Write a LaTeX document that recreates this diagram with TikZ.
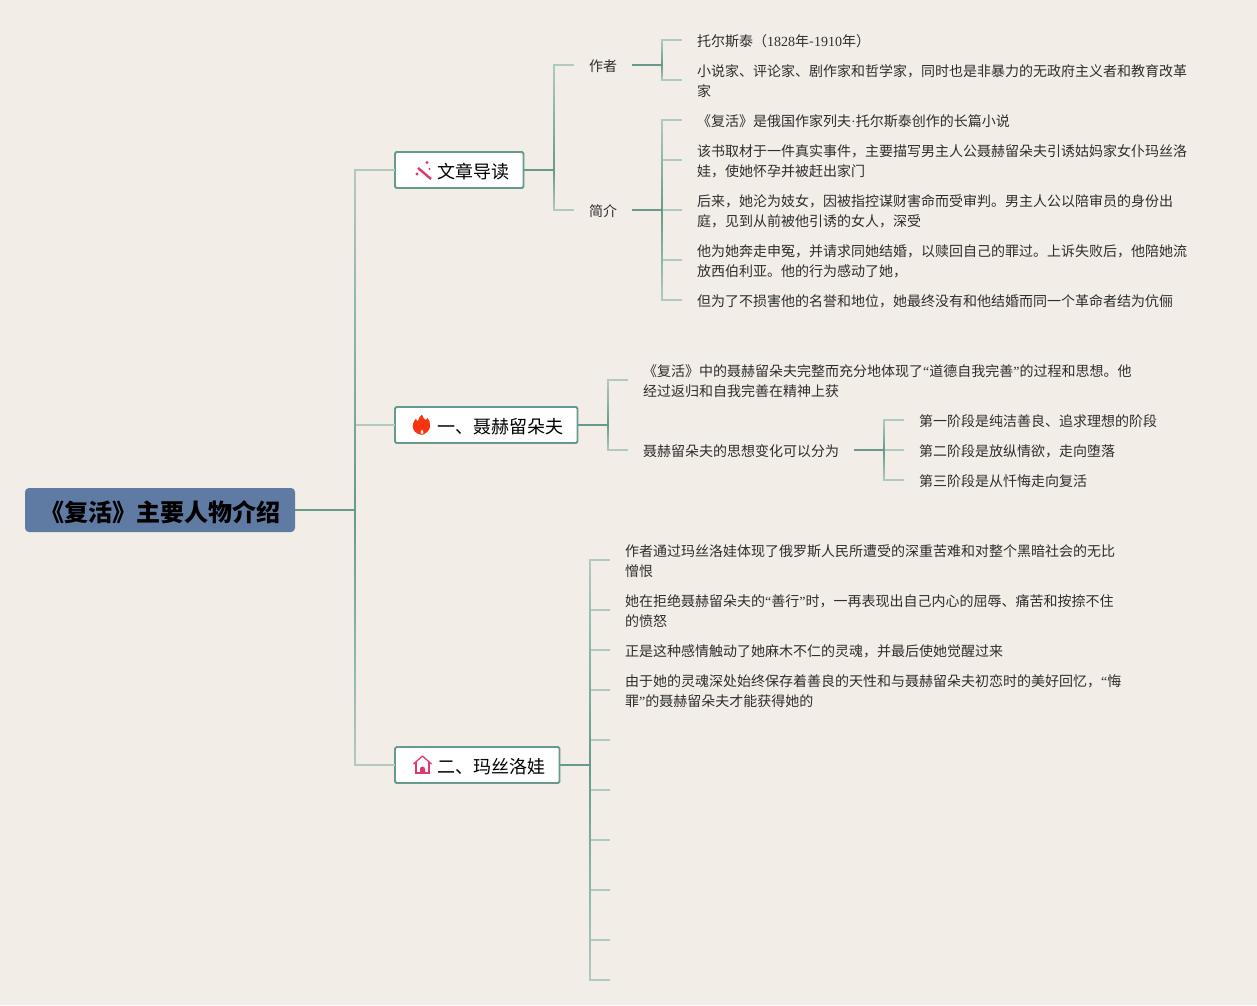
\documentclass[tikz,border=0pt]{standalone}
\usepackage{xcolor}
\usepackage{fontspec}
\setmainfont{Noto Sans CJK SC}
\newfontfamily\latfont{Liberation Serif}
\usepackage{tikz}
\definecolor{paper}{HTML}{F2EDE7}
\definecolor{rootblue}{HTML}{5F7BA4}
\definecolor{linedark}{HTML}{659A8C}
\definecolor{linepale}{HTML}{B0CABF}
\definecolor{inkgrey}{HTML}{2E2E2E}
\definecolor{iconpink}{HTML}{E2386F}
\definecolor{iconred}{HTML}{F8330F}
\newcommand{\lat}[1]{{\latfont #1}}
\newcommand{\topictext}[1]{\hspace*{42pt}#1\hspace*{14.5pt}}
% shaded upright of a bracket: pale at its ends, dark at the junction
\newcommand{\spine}[3]{
  \shade[top color=linepale,bottom color=linedark] ([xshift=-.8pt]#1 |- #2) rectangle ([xshift=.8pt]#1);
  \shade[top color=linedark,bottom color=linepale] ([xshift=-.8pt]#1) rectangle ([xshift=.8pt]#1 |- #3);
}
\tikzset{
  rootbox/.style={fill=rootblue,rounded corners=4pt,minimum width=270pt,minimum height=44pt,
    text height=24pt,text depth=2pt,font=\fontsize{24}{28}\selectfont\bfseries,text=black},
  topicbox/.style={fill=white,draw=linedark,line width=1.8pt,rounded corners=1.5pt,anchor=west,
    outer sep=0pt,minimum height=36pt,inner xsep=0pt,text height=18pt,text depth=2pt,
    font=\fontsize{18}{22}\selectfont,text=black},
  subtopic/.style={anchor=west,inner xsep=15pt,inner ysep=0pt,font=\fontsize{14}{20}\selectfont,text=inkgrey},
  leaf/.style={anchor=west,align=left,inner xsep=15pt,inner ysep=0pt,font=\fontsize{14}{20}\selectfont,text=inkgrey},
  lift/.style={yshift=1pt},
  dark/.style={draw=linedark,line width=1.6pt},
  pale/.style={draw=linepale,line width=1.4pt}
}
\begin{document}
\begin{tikzpicture}[x=1pt,y=-1pt]
  \useasboundingbox (0,0) rectangle (1257,1005);
  \fill[paper] (0,0) rectangle (1257,1005);
  % root and topics
  \node[rootbox]  (Root)  at (160,510) {《复活》主要人物介绍};
  \node[topicbox] (Intro) at (395,170) {\topictext{文章导读}};
  \node[topicbox] (Nekh)  at (395,425) {\topictext{一、聂赫留朵夫}};
  \node[topicbox] (Masl)  at (395,765) {\topictext{二、玛丝洛娃}};
  \coordinate (Trunk)  at (355,510);
  \coordinate (IntroJ) at (554,170);
  \coordinate (NekhJ)  at (608,425);
  \coordinate (MaslJ)  at (590,765);
  % first topic
  \node[subtopic] (Author) at (574,66)  {作者};
  \node[subtopic] (Brief)  at (574,211) {简介};
  \coordinate (AuthorJ) at (662,65);
  \coordinate (BriefJ)  at (662,210);
  \node[leaf] (A1) at (682,41)  {托尔斯泰（\lat{1828}年-\lat{1910}年）};
  \node[leaf] (A2) at (682,81)  {小说家、评论家、剧作家和哲学家，同时也是非暴力的无政府主义者和教育改革\\家};
  \node[leaf] (B1) at (682,121) {《复活》是俄国作家列夫\lat{·}托尔斯泰创作的长篇小说};
  \node[leaf] (B2) at (682,161) {该书取材于一件真实事件，主要描写男主人公聂赫留朵夫引诱姑妈家女仆玛丝洛\\娃，使她怀孕并被赶出家门};
  \node[leaf] (B3) at (682,211) {后来，她沦为妓女，因被指控谋财害命而受审判。男主人公以陪审员的身份出\\庭，见到从前被他引诱的女人，深受};
  \node[leaf] (B4) at (682,261) {他为她奔走申冤，并请求同她结婚，以赎回自己的罪过。上诉失败后，他陪她流\\放西伯利亚。他的行为感动了她，};
  \node[leaf] (B5) at (682,301) {但为了不损害他的名誉和地位，她最终没有和他结婚而同一个革命者结为伉俪};
  % second topic
  \node[leaf] (N1) at (628,381) {《复活》中的聂赫留朵夫完整而充分地体现了\lat{“}道德自我完善\lat{”}的过程和思想。他\\经过返归和自我完善在精神上获};
  \node[subtopic] (N2) at (628,451) {聂赫留朵夫的思想变化可以分为};
  \coordinate (N2J) at (884,450);
  \node[leaf] (S1) at (904,421) {第一阶段是纯洁善良、追求理想的阶段};
  \node[leaf] (S2) at (904,451) {第二阶段是放纵情欲，走向堕落};
  \node[leaf] (S3) at (904,481) {第三阶段是从忏悔走向复活};
  % third topic
  \node[leaf] (M1) at (610,561) {作者通过玛丝洛娃体现了俄罗斯人民所遭受的深重苦难和对整个黑暗社会的无比\\憎恨};
  \node[leaf] (M2) at (610,611) {她在拒绝聂赫留朵夫的\lat{“}善行\lat{”}时，一再表现出自己内心的屈辱、痛苦和按捺不住\\的愤怒};
  \node[leaf] (M3) at (610,651) {正是这种感情触动了她麻木不仁的灵魂，并最后使她觉醒过来};
  \node[leaf] (M4) at (610,691) {由于她的灵魂深处始终保存着善良的天性和与聂赫留朵夫初恋时的美好回忆，\lat{“}悔\\罪\lat{”}的聂赫留朵夫才能获得她的};
  \foreach \n/\y in {M5/741,M6/791,M7/841,M8/891,M9/941,M10/981}
    \coordinate (\n) at (610,\y);
  % where the connectors come in
  \foreach \t in {Author,Brief,A1,A2,B1,B2,B3,B4,B5,N1,N2,S1,S2,S3,M1,M2,M3,M4,M5,M6,M7,M8,M9,M10}
    \coordinate (\t-in) at ([lift]\t.west);
  % connectors
  \foreach \t in {Intro,Nekh,Masl}
    \draw[pale] (Trunk) |- (\t.west);
  \foreach \t in {Author,Brief}
    \draw[pale] (IntroJ) |- (\t-in);
  \foreach \t in {A1,A2}
    \draw[pale] (AuthorJ) |- (\t-in);
  \foreach \t in {B1,B2,B3,B4,B5}
    \draw[pale] (BriefJ) |- (\t-in);
  \foreach \t in {N1,N2}
    \draw[pale] (NekhJ) |- (\t-in);
  \foreach \t in {S1,S2,S3}
    \draw[pale] (N2J) |- (\t-in);
  \foreach \t in {M1,M2,M3,M4,M5,M6,M7,M8,M9,M10}
    \draw[pale] (MaslJ) |- (\t-in);
  \spine{Trunk}{Intro.west}{Masl.west}
  \spine{IntroJ}{Author-in}{Brief-in}
  \spine{AuthorJ}{A1-in}{A2-in}
  \spine{BriefJ}{B1-in}{B5-in}
  \spine{NekhJ}{N1-in}{N2-in}
  \spine{N2J}{S1-in}{S3-in}
  \spine{MaslJ}{M1-in}{M10-in}
  \path[dark]
    (Root.east) edge (Trunk)
    (Intro.east) edge (IntroJ)
    (Nekh.east) edge (NekhJ)
    (Masl.east) edge (MaslJ)
    ([lift]Author.east) edge (AuthorJ)
    ([lift]Brief.east) edge (BriefJ)
    ([lift]N2.east) edge (N2J);
  % icons
  \draw[iconpink,line width=2.4pt] (418,168) -- (431,179);
  \fill[iconpink] (427,162.5) circle (1.7pt) (417,174) circle (1.7pt) (429.5,169) circle (1.1pt);
  \fill[iconred] (422,414.5) .. controls (423,418) and (425,420) .. (426,420)
    .. controls (427,420) and (427,418) .. (427,417.5)
    .. controls (431,421) and (433,431) .. (422,435)
    .. controls (411,433) and (411,424) .. (416,418.5)
    .. controls (416,420) and (417,421) .. (418,421)
    .. controls (419,419) and (419,416) .. (422,414.5) -- cycle;
  \fill[white] (422,434.5) .. controls (420,433.5) and (420,431) .. (422,429.5)
    .. controls (424,431) and (424,433.5) .. (422,434.5) -- cycle;
  \draw[iconpink,line width=1.3pt,line join=round] (413.5,764) -- (422.5,756) -- (431.5,764);
  \draw[iconpink,line width=1.3pt] (416,762) -- (416,773) -- (429,773) -- (429,762);
  \fill[iconpink] (420,773) -- (420,769) arc (180:0:2.5pt) -- (425,773) -- cycle;
\end{tikzpicture}
\end{document}
